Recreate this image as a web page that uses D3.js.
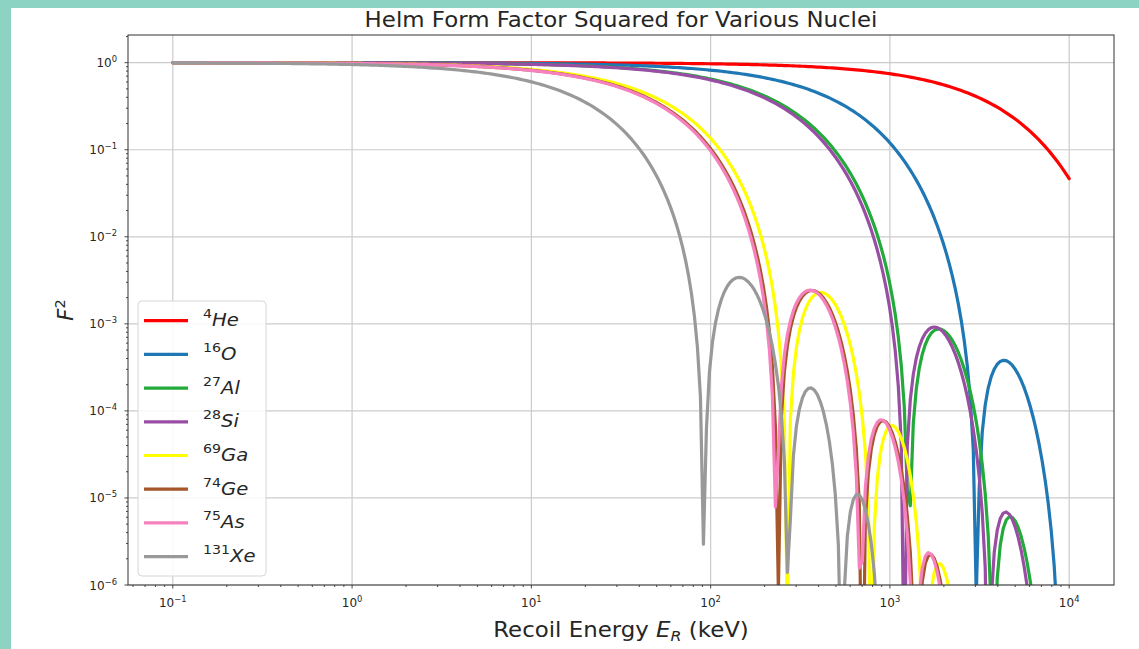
<!DOCTYPE html>
<html>
<head>
<meta charset="utf-8">
<script src="https://cdn.jsdelivr.net/npm/d3@7"></script>
<style>
  body { margin: 0; background: #fff; }
  svg { display: block; }
  text { font-family: "DejaVu Sans", sans-serif; fill: #262626; }
</style>
</head>
<body>
<svg id="chart" width="1139" height="649"></svg>
<script>
// Nuclei shown, their mass numbers and line colours
const elements = ["He", "O", "Al", "Si", "Ga", "Ge", "As", "Xe"];
const massNumbers = [4, 16, 27, 28, 69, 74, 75, 131];
const lineColors = ["#ff0000", "#1f77b4", "#22aa3a", "#984ea3", "#ffff00", "#a65628", "#f781bf", "#999999"];

// Recoil energy grid (keV), log-spaced
const energyRangeKeV = [0.1, 1e4];
const sampleCount = 300;

// Tick exponents
const xTickExponents = [-1, 0, 1, 2, 3, 4];
const yTickExponents = [0, -1, -2, -3, -4, -5, -6];

// Helm form factor parameters
const radiusCoeffFm = 1.1665;   // r_n = k * A^(1/3)
const skinFm = 0.915;           // surface thickness s
const nucleonMassMeV = 931.5;
const hbarcMeVfm = 197.327;

function helmF2(eKeV, A) {
  const m = A * nucleonMassMeV;
  const q = Math.sqrt(2 * m * eKeV / 1000) / hbarcMeVfm; // fm^-1
  const r = radiusCoeffFm * Math.cbrt(A);
  const x = q * r;
  let ratio;
  if (x < 1e-3) {
    ratio = 1 - x * x / 10;
  } else {
    const j1 = Math.sin(x) / (x * x) - Math.cos(x) / x;
    ratio = 3 * j1 / x;
  }
  const F = ratio * Math.exp(-(q * skinFm) * (q * skinFm) / 2);
  return F * F;
}

const logLo = Math.log10(energyRangeKeV[0]), logHi = Math.log10(energyRangeKeV[1]);
const energies = d3.range(sampleCount).map(i =>
  Math.pow(10, logLo + (logHi - logLo) * i / (sampleCount - 1)));

const series = elements.map((el, i) => ({
  el, A: massNumbers[i], color: lineColors[i],
  values: energies.map(e => ({ e, f2: Math.max(helmF2(e, massNumbers[i]), 1e-300) }))
}));

// Layout
const svg = d3.select("#chart");
const W = 1139, H = 649;
const plot = { left: 128, right: 1114, top: 35, bottom: 585 };
const textStretch = 1.09;

// page frame strips
svg.append("rect").attr("x", 0).attr("y", 0).attr("width", W).attr("height", H).attr("fill", "#fff");
svg.append("rect").attr("x", 0).attr("y", 0).attr("width", 11).attr("height", H).attr("fill", "#8cd3c4");
svg.append("rect").attr("x", 0).attr("y", 0).attr("width", W).attr("height", 8).attr("fill", "#8cd3c4");

const x = d3.scaleLog()
  .domain([Math.pow(10, -1.25), Math.pow(10, 4.25)])
  .range([plot.left, plot.right]);
const y = d3.scaleLog()
  .domain([1e-6, Math.pow(10, 0.318)])
  .range([plot.bottom, plot.top]);

// grid
const grid = svg.append("g");
xTickExponents.forEach(p => {
  const px = x(Math.pow(10, p));
  grid.append("line").attr("x1", px).attr("x2", px).attr("y1", plot.top).attr("y2", plot.bottom)
    .attr("stroke", "#cbcbcb").attr("stroke-width", 1.2);
});
yTickExponents.forEach(p => {
  const py = y(Math.pow(10, p));
  grid.append("line").attr("x1", plot.left).attr("x2", plot.right).attr("y1", py).attr("y2", py)
    .attr("stroke", "#cbcbcb").attr("stroke-width", 1.2);
});

// curves
svg.append("clipPath").attr("id", "plot-clip").append("rect")
  .attr("x", plot.left).attr("y", plot.top)
  .attr("width", plot.right - plot.left).attr("height", plot.bottom - plot.top);

const line = d3.line().x(d => x(d.e)).y(d => y(d.f2));
const curves = svg.append("g").attr("clip-path", "url(#plot-clip)");
series.forEach(s => {
  curves.append("path").datum(s.values)
    .attr("d", line)
    .attr("fill", "none")
    .attr("stroke", s.color)
    .attr("stroke-width", 3.2)
    .attr("stroke-linejoin", "round")
    .attr("stroke-linecap", "round");
});

// axes frame
svg.append("rect").attr("x", plot.left).attr("y", plot.top)
  .attr("width", plot.right - plot.left).attr("height", plot.bottom - plot.top)
  .attr("fill", "none").attr("stroke", "#333").attr("stroke-width", 1);

// ticks
const ticks = svg.append("g").attr("stroke", "#333").attr("stroke-width", 0.9);
const xDom = x.domain(), yDom = y.domain();
for (let p = -2; p <= 5; p++) {
  for (let m = 1; m <= 9; m++) {
    const v = m * Math.pow(10, p);
    const len = m === 1 ? 3.5 : 2;
    if (v >= xDom[0] && v <= xDom[1]) {
      const px = x(v);
      ticks.append("line").attr("x1", px).attr("x2", px).attr("y1", plot.bottom).attr("y2", plot.bottom + len);
    }
  }
}
for (let p = -7; p <= 1; p++) {
  for (let m = 1; m <= 9; m++) {
    const v = m * Math.pow(10, p);
    const len = m === 1 ? 3.5 : 2;
    if (v >= yDom[0] * 0.9999 && v <= yDom[1]) {
      const py = y(v);
      ticks.append("line").attr("x1", plot.left - len).attr("x2", plot.left).attr("y1", py).attr("y2", py);
    }
  }
}

const expText = p => (p < 0 ? "\u2212" + Math.abs(p) : String(p));

// x tick labels
xTickExponents.forEach(p => {
  const t = svg.append("text").attr("x", x(Math.pow(10, p))).attr("y", 607)
    .attr("text-anchor", "middle").attr("font-size", 12);
  t.append("tspan").text("10");
  t.append("tspan").attr("font-size", 8.4).attr("dy", -5).text(expText(p));
});

// y tick labels
yTickExponents.forEach(p => {
  const t = svg.append("text").attr("x", 117).attr("y", y(Math.pow(10, p)) + 4.5)
    .attr("text-anchor", "end").attr("font-size", 12);
  t.append("tspan").text("10");
  t.append("tspan").attr("font-size", 8.4).attr("dy", -5).text(expText(p));
});

// title
svg.append("text")
  .attr("transform", `translate(${(plot.left + plot.right) / 2},27) scale(${textStretch},1)`)
  .attr("text-anchor", "middle").attr("font-size", 21)
  .text("Helm Form Factor Squared for Various Nuclei");

// x axis label
const xl = svg.append("text")
  .attr("transform", `translate(${(plot.left + plot.right) / 2},637) scale(${textStretch},1)`)
  .attr("text-anchor", "middle").attr("font-size", 21);
xl.append("tspan").text("Recoil Energy ");
xl.append("tspan").attr("font-style", "italic").text("E");
xl.append("tspan").attr("font-style", "italic").attr("font-size", 14.5).attr("dy", 4).text("R");
xl.append("tspan").attr("dy", -4).text(" (keV)");

// y axis label
const yl = svg.append("text").attr("transform", `translate(73,${(plot.top + plot.bottom) / 2}) rotate(-90)`)
  .attr("text-anchor", "middle").attr("font-size", 21);
yl.append("tspan").attr("font-style", "italic").text("F");
yl.append("tspan").attr("font-size", 14.5).attr("dy", -8).text("2");

// legend
const lg = svg.append("g");
lg.append("rect").attr("x", 138).attr("y", 301).attr("width", 128).attr("height", 275)
  .attr("rx", 4).attr("fill", "#fff").attr("fill-opacity", 0.85)
  .attr("stroke", "#d6d6d6").attr("stroke-width", 1);
series.forEach((s, i) => {
  const cy = 320.7 + i * 33.7;
  lg.append("line").attr("x1", 144).attr("x2", 188).attr("y1", cy).attr("y2", cy)
    .attr("stroke", s.color).attr("stroke-width", 3.2);
  const t = lg.append("text")
    .attr("transform", `translate(203,${cy + 5.5}) scale(${textStretch},1)`)
    .attr("font-size", 18);
  t.append("tspan").attr("font-size", 13).attr("dy", -8).text(s.A);
  t.append("tspan").attr("font-style", "italic").attr("dy", 8).text(s.el);
});
</script>
</body>
</html>
